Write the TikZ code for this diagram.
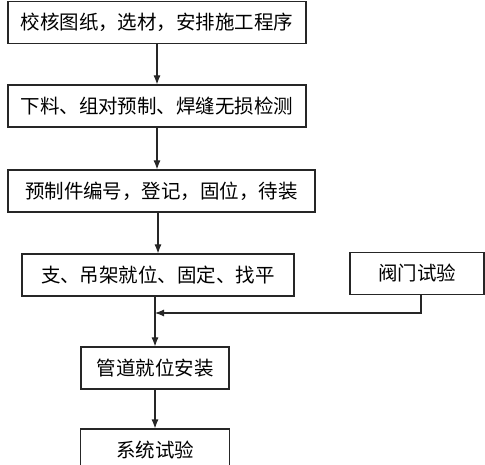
\documentclass[tikz,border=0pt]{standalone}
\usepackage{fontspec}
\newfontfamily\cjk{Noto Sans CJK SC}
\usetikzlibrary{arrows.meta, positioning}

\begin{document}
\begin{tikzpicture}
    [
      x=1pt,
      y=-1pt,
      step box/.style={rectangle,draw=black!85,line width=1.1pt,minimum height=42pt,
        inner sep=0pt,font=\cjk\fontsize{19.5}{22}\selectfont},
      flow/.style={draw=black!85,line width=1.1pt,-{Latex[length=9pt,width=7pt]}},
    ]
    \useasboundingbox (0, 0) rectangle (485, 465);

    \node at (157, 22.5)   [step box, minimum width=298] (check) {校核图纸，选材，安排施工程序};
    \node at (157, 106)    [step box, minimum width=298] (prefab) {下料、组对预制、焊缝无损检测};
    \node at (161.5, 191)  [step box, minimum width=307] (mark) {预制件编号，登记，固位，待装};
    \node at (158, 275)    [step box, minimum width=272] (support) {支、吊架就位、固定、找平};
    \node at (417, 273.5)  [step box, minimum width=134] (valve) {阀门试验};
    \node at (155, 368)    [step box, minimum width=148] (install) {管道就位安装};
    \node at (155, 450)    [step box, minimum width=149] (systest) {系统试验};

    \coordinate (join) at (155, 313);

    \draw[flow] (check.south) -- (prefab.north);
    \draw[flow] (prefab.south) -- (prefab.south |- mark.north);
    \draw[flow] (support.north |- mark.south) -- (support.north);
    \draw[flow] (join |- support.south) -- (install.north -| join);
    \draw[flow] ([xshift=4pt]valve.south) |- (join);
    \draw[flow] (install.south) -- (systest.north);
  \end{tikzpicture}
\end{document}
